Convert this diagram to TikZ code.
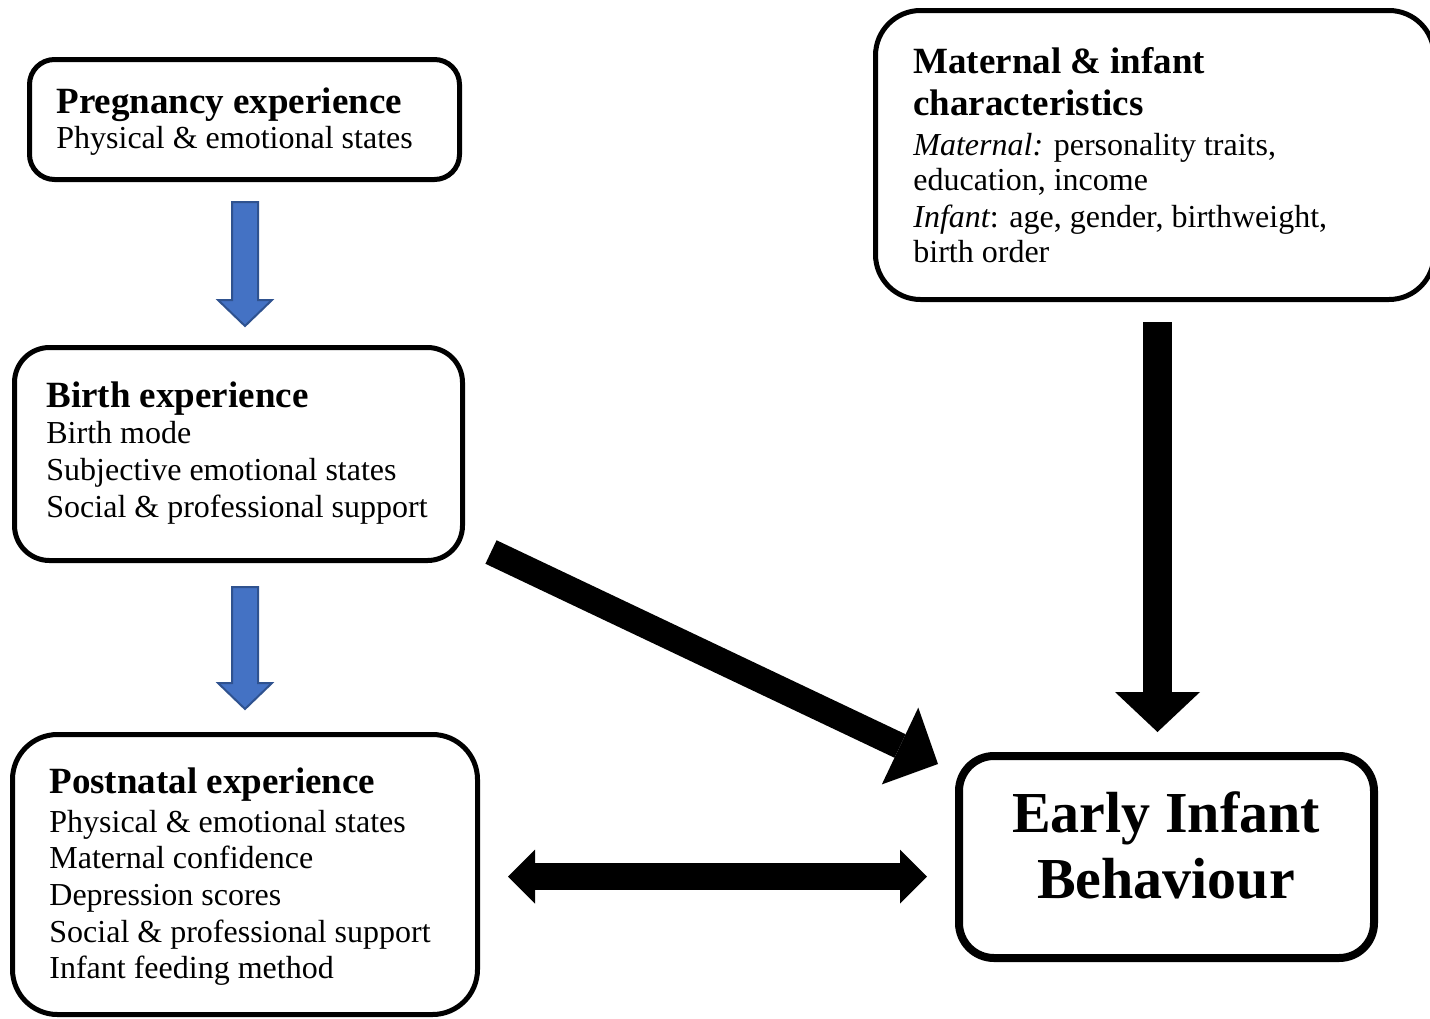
\documentclass[tikz,border=0pt]{standalone}
\usepackage{fontspec}
\setmainfont{Liberation Serif}
\usetikzlibrary{arrows.meta,calc}
\definecolor{arrblue}{HTML}{4472C4}
\definecolor{arrblueline}{HTML}{2F528F}
\begin{document}
\begin{tikzpicture}[x=0.5pt,y=-0.5pt,
  box/.style={draw=black, line width=2.5pt, rounded corners=#1, inner sep=0pt, fill=white},
  box/.default=17.5pt,
  bodytxt/.style={anchor=base west, inner sep=0pt, font=\fontsize{16}{18}\selectfont},
  titletxt/.style={anchor=base west, inner sep=0pt, font=\fontsize{18.5}{22}\selectfont\bfseries},
  bigtxt/.style={anchor=base, inner sep=0pt, font=\fontsize{29}{33}\selectfont\bfseries},
  bluearrow/.style={fill=arrblue, draw=arrblueline, line width=1pt, line join=miter},
  blackarrow/.style={draw=black, line cap=butt}
]
\useasboundingbox (0,0) rectangle (1430,1018);

% boxes
\node[box=12.5pt, minimum width=215pt, minimum height=60pt] (preg) at (244.5,119.5) {};
\node[box=17.5pt, minimum width=224pt, minimum height=106.5pt] (birth) at (238.5,454) {};
\node[box=22.5pt, minimum width=232.5pt, minimum height=140pt] (post) at (245,874.5) {};
\node[box=22.5pt, minimum width=279.25pt, minimum height=144.5pt] (mat) at (1154.75,155) {};
\node[box=17.5pt, line width=4pt, minimum width=207.5pt, minimum height=101pt] (early) at (1166.5,857) {};

% pregnancy text
\node[titletxt] (pt1) at (56,113) {Pregnancy experience};
\node[bodytxt] (pb1) at (56,148) {Physical \& emotional states};

% birth text
\node[titletxt] (bt1) at (46,407) {Birth experience};
\node[bodytxt] (bb1) at (46,443) {Birth mode};
\node[bodytxt] (bb2) at (46,480) {Subjective emotional states};
\node[bodytxt] (bb3) at (46,517) {Social \& professional support};

% postnatal text
\node[titletxt] (nt1) at (49,793) {Postnatal experience};
\node[bodytxt] (nb1) at (49,832) {Physical \& emotional states};
\node[bodytxt] (nb2) at (49,868) {Maternal confidence};
\node[bodytxt] (nb3) at (49,905) {Depression scores};
\node[bodytxt] (nb4) at (49,942) {Social \& professional support};
\node[bodytxt] (nb5) at (49,978) {Infant feeding method};

% maternal text
\node[titletxt] (mt1) at (913,73) {Maternal \& infant};
\node[titletxt] (mt2) at (913,115) {characteristics};
\node[bodytxt] (mb1) at (913,155) {{\itshape Maternal:} personality traits,};
\node[bodytxt] (mb2) at (913,190) {education, income};
\node[bodytxt] (mb3) at (913,227) {{\itshape Infant}: age, gender, birthweight,};
\node[bodytxt] (mb4) at (913,262) {birth order};

% early infant text
\node[bigtxt] (et1) at (1166,832) {Early Infant};
\node[bigtxt] (et2) at (1166,898) {Behaviour};

% blue block arrows
\coordinate (ba1) at (245,202);
\coordinate (ba2) at (245,587);
\draw[bluearrow] ($(ba1)+(-13,0)$) -- ++(26,0) -- ++(0,98) -- ++(14,0) -- ++(-27,26) -- ++(-27,-26) -- ++(14,0) -- cycle;
\draw[bluearrow] ($(ba2)+(-13,0)$) -- ++(26,0) -- ++(0,96) -- ++(14,0) -- ++(-27,26) -- ++(-27,-26) -- ++(14,0) -- cycle;

% black arrows
\coordinate (d1) at (491,552);
\coordinate (d2) at (938,764);
\draw[blackarrow, line width=13pt, -{Triangle[length=21pt,width=42.5pt,line width=0pt]}] (d1) -- (d2);

\coordinate (h1) at (508,876.5);
\coordinate (h2) at (927,876.5);
\draw[blackarrow, line width=13.5pt, {Triangle[length=13.5pt,width=27pt,line width=0pt]}-{Triangle[length=13.5pt,width=27pt,line width=0pt]}] (h1) -- (h2);

\coordinate (v1) at (1157.5,322);
\coordinate (v2) at (1157.5,732);
\draw[blackarrow, line width=14.5pt, -{Triangle[length=20pt,width=42.5pt,line width=0pt]}] (v1) -- (v2);
\end{tikzpicture}
\end{document}
